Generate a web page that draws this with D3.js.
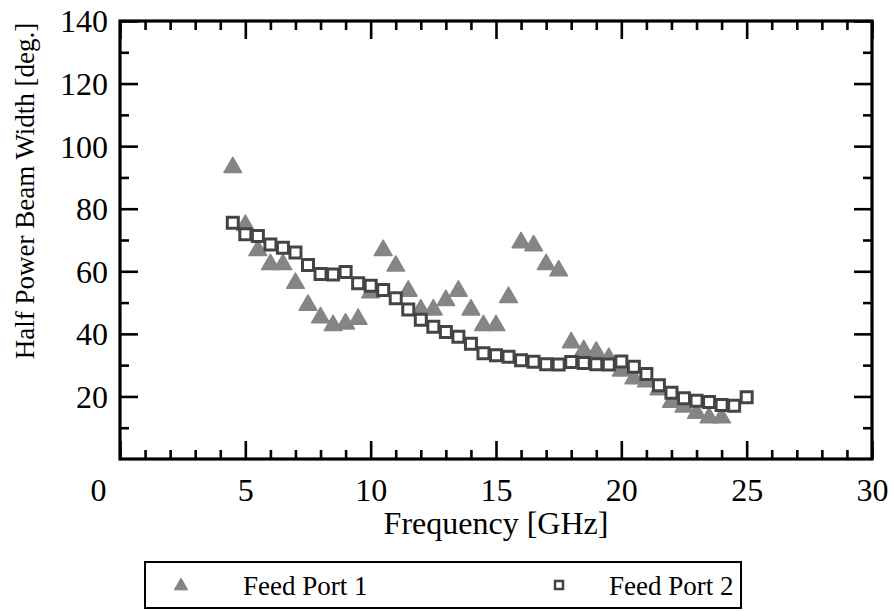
<!DOCTYPE html>
<html>
<head>
<meta charset="utf-8">
<script src="https://cdn.jsdelivr.net/npm/d3@7"></script>
<style>
  body { margin: 0; background: #fff; }
  svg text { font-family: "Liberation Serif", "Times New Roman", Times, serif; }
</style>
</head>
<body>
<div id="chart"></div>
<script>
// frequencies (GHz) and half power beam widths (deg.)
const freqPort1 = [4.5, 5, 5.5, 6, 6.5, 7, 7.5, 8, 8.5, 9, 9.5, 10, 10.5, 11, 11.5, 12, 12.5, 13, 13.5, 14,
  14.5, 15, 15.5, 16, 16.5, 17, 17.5, 18, 18.5, 19, 19.5, 20, 20.5, 21, 21.5, 22, 22.5, 23, 23.5, 24];
const hpbwPort1 = [94, 75.5, 67.5, 63, 63, 57, 50, 46, 43.5, 44, 45.5, 54, 67.5, 62.5, 54.5, 48.5, 48.5, 51.5, 54.5, 48.5,
  43.5, 43.5, 52.5, 70, 69, 63, 61, 38, 35.5, 35, 33, 29, 26.5, 25.5, 23, 19, 17.5, 15.5, 14, 14];

const freqPort2 = [4.5, 5, 5.5, 6, 6.5, 7, 7.5, 8, 8.5, 9, 9.5, 10, 10.5, 11, 11.5, 12, 12.5, 13, 13.5, 14,
  14.5, 15, 15.5, 16, 16.5, 17, 17.5, 18, 18.5, 19, 19.5, 20, 20.5, 21, 21.5, 22, 22.5, 23, 23.5, 24, 24.5, 25];
const hpbwPort2 = [75.5, 71.8, 71.3, 68.6, 67.5, 66, 62, 59.1, 59, 59.8, 56.2, 55.4, 54, 51.4, 47.8, 44.5, 42.3, 40.6, 39.1, 36.8,
  33.8, 33.2, 32.7, 31.6, 31.1, 30.3, 30.2, 31, 30.7, 30.3, 30.2, 31.2, 29.5, 27.2, 23.6, 21.2, 19.4, 18.6, 18.2, 17.3, 17, 19.7];

const xTickLabels = [0, 5, 10, 15, 20, 25, 30];
const yTickLabels = [20, 40, 60, 80, 100, 120, 140];
const seriesNames = ['Feed Port 1', 'Feed Port 2'];

const serif = '"Liberation Serif", "Times New Roman", Times, serif';
const W = 894, H = 611;
const plot = {left: 120, right: 872, top: 21, bottom: 459};

const svg = d3.select('#chart').append('svg')
  .attr('width', W)
  .attr('height', H)
  .attr('font-family', serif);

const x = d3.scaleLinear().domain([0, 30]).range([plot.left, plot.right]);
const y = d3.scaleLinear().domain([0, 140]).range([plot.bottom, plot.top]);

const majorLen = 18, minorLen = 9;
const xMinor = d3.range(0, 31, 1).filter((d) => d % 5 !== 0);
const yMinor = d3.range(0, 141, 10).filter((d) => d % 20 !== 0);

// tick marks, all pointing into the plot
function ticks(axisFn, scale, values, len, pos) {
  const g = svg.append('g')
    .attr('transform', pos)
    .call(axisFn(scale).tickValues(values).tickSize(-len).tickFormat(''));
  g.select('.domain').remove();
  g.selectAll('line').attr('stroke', '#000').attr('stroke-width', 2.6);
}
ticks(d3.axisBottom, x, xTickLabels, majorLen, `translate(0,${plot.bottom})`);
ticks(d3.axisBottom, x, xMinor, minorLen, `translate(0,${plot.bottom})`);
ticks(d3.axisTop, x, xTickLabels, majorLen, `translate(0,${plot.top})`);
ticks(d3.axisTop, x, xMinor, minorLen, `translate(0,${plot.top})`);
ticks(d3.axisLeft, y, yTickLabels, majorLen, `translate(${plot.left},0)`);
ticks(d3.axisLeft, y, yMinor, minorLen, `translate(${plot.left},0)`);
ticks(d3.axisRight, y, yTickLabels, majorLen, `translate(${plot.right},0)`);
ticks(d3.axisRight, y, yMinor, minorLen, `translate(${plot.right},0)`);

// frame
svg.append('rect')
  .attr('x', plot.left)
  .attr('y', plot.top)
  .attr('width', plot.right - plot.left)
  .attr('height', plot.bottom - plot.top)
  .attr('fill', 'none')
  .attr('stroke', '#000')
  .attr('stroke-width', 3.2);

// tick labels
const xLab = svg.append('g')
  .attr('transform', `translate(0,${plot.bottom})`)
  .call(d3.axisBottom(x).tickValues(xTickLabels).tickSize(0).tickPadding(0));
xLab.attr('font-family', serif).select('.domain').remove();
xLab.selectAll('text')
  .attr('y', 42)
  .attr('dy', 0)
  .attr('dx', (d) => d === 0 ? -22 : 0)
  .style('font-size', '32px')
  .attr('fill', '#000');

const yLab = svg.append('g')
  .attr('transform', `translate(${plot.left},0)`)
  .call(d3.axisLeft(y).tickValues(yTickLabels).tickSize(0).tickPadding(12));
yLab.attr('font-family', serif).select('.domain').remove();
yLab.selectAll('text')
  .attr('dy', '0.34em')
  .style('font-size', '32px')
  .attr('fill', '#000');

// axis titles
svg.append('text')
  .attr('x', (plot.left + plot.right) / 2)
  .attr('y', 534)
  .attr('text-anchor', 'middle')
  .style('font-size', '32px')
  .text('Frequency [GHz]');

svg.append('text')
  .attr('transform', `translate(34,${191}) rotate(-90)`)
  .attr('text-anchor', 'middle')
  .style('font-size', '27px')
  .text('Half Power Beam Width [deg.]');

// triangle centred on its bounding box
const triangleBox = {
  draw(context, size) {
    const w = Math.sqrt(size * 2 / 0.866);
    const h = w * 0.866;
    context.moveTo(0, -h / 2);
    context.lineTo(w / 2, h / 2);
    context.lineTo(-w / 2, h / 2);
    context.closePath();
  }
};

const port1 = freqPort1.map((f, i) => ({f, v: hpbwPort1[i]}));
const port2 = freqPort2.map((f, i) => ({f, v: hpbwPort2[i]}));

svg.append('g').selectAll('path')
  .data(port1)
  .join('path')
  .attr('d', d3.symbol().type(triangleBox).size(135))
  .attr('transform', (d) => `translate(${x(d.f)},${y(d.v)})`)
  .attr('fill', '#858585')
  .attr('stroke', '#858585')
  .attr('stroke-width', 1.5)
  .attr('stroke-linejoin', 'round');

svg.append('g').selectAll('path')
  .data(port2)
  .join('path')
  .attr('d', d3.symbol().type(d3.symbolSquare).size(121))
  .attr('transform', (d) => `translate(${x(d.f)},${y(d.v)})`)
  .attr('fill', '#fff')
  .attr('stroke', '#444')
  .attr('stroke-width', 3);

// legend
const legend = svg.append('g');
legend.append('rect')
  .attr('x', 145)
  .attr('y', 562)
  .attr('width', 596)
  .attr('height', 46)
  .attr('fill', '#fff')
  .attr('stroke', '#000')
  .attr('stroke-width', 2);

legend.append('path')
  .attr('d', d3.symbol().type(triangleBox).size(80))
  .attr('transform', 'translate(181,584)')
  .attr('fill', '#858585')
  .attr('stroke', '#858585')
  .attr('stroke-linejoin', 'round');
legend.append('text')
  .attr('x', 243)
  .attr('y', 595)
  .style('font-size', '27px')
  .text(seriesNames[0]);

legend.append('path')
  .attr('d', d3.symbol().type(d3.symbolSquare).size(64))
  .attr('transform', 'translate(559,585)')
  .attr('fill', '#fff')
  .attr('stroke', '#444')
  .attr('stroke-width', 2.5);
legend.append('text')
  .attr('x', 609)
  .attr('y', 595)
  .style('font-size', '27px')
  .text(seriesNames[1]);
</script>
</body>
</html>
